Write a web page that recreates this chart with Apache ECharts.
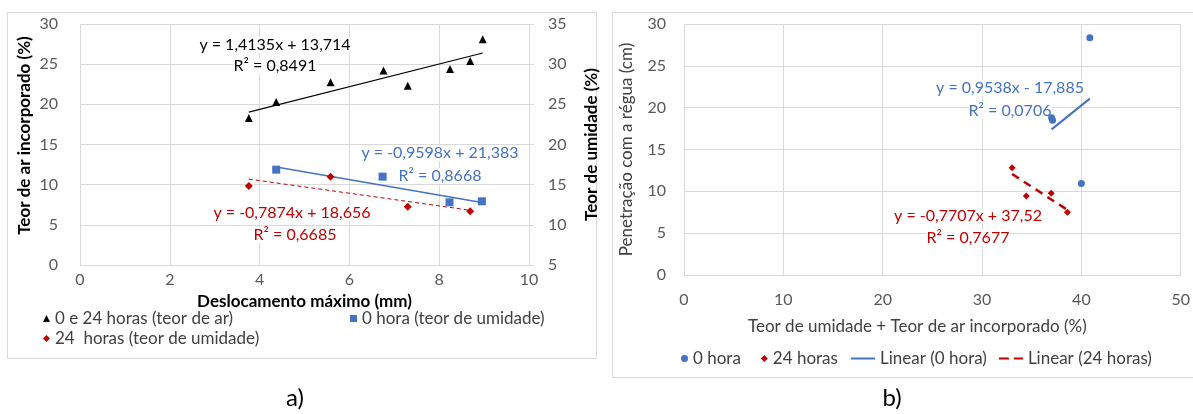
<!DOCTYPE html>
<html>
<head>
<meta charset="utf-8">
<script src="https://cdn.jsdelivr.net/npm/echarts@6/dist/echarts.min.js"></script>
<style>
html, body { margin: 0; padding: 0; background: #fff; }
#main { width: 1193px; height: 414px; }
</style>
</head>
<body>
<div id="main"></div>
<script>
// a) teor de ar / teor de umidade vs deslocamento maximo (mm)
var arX = [3.76, 4.37, 5.58, 6.76, 7.30, 8.24, 8.69, 8.97];
var arY = [18.3, 20.3, 22.75, 24.2, 22.3, 24.4, 25.4, 28.1];
var um0X = [4.37, 6.74, 8.23, 8.95];
var um0Y = [16.87, 16.0, 12.8, 12.93];
var um24X = [3.76, 5.58, 7.30, 8.69];
var um24Y = [14.84, 16.0, 12.26, 11.69];

// b) penetracao vs teor de umidade + teor de ar
var h0X = [40.85, 37.0, 37.1, 40.0];
var h0Y = [28.35, 18.8, 18.5, 10.95];
var h24X = [33.03, 34.46, 36.96, 38.6];
var h24Y = [12.82, 9.44, 9.76, 7.49];

// linear trend coefficients [slope, intercept] and R² as printed on the chart
var trendAr = [1.4135, 13.714], r2Ar = '0,8491';
var trendUm0 = [-0.9598, 21.383], r2Um0 = '0,8668';
var trendUm24 = [-0.7874, 18.656], r2Um24 = '0,6685';
var trendH0 = [0.9538, -17.885], r2H0 = '0,0706';
var trendH24 = [-0.7707, 37.52], r2H24 = '0,7677';

// tick values
var ticksXa = [0, 2, 4, 6, 8, 10];
var ticksYa = [0, 5, 10, 15, 20, 25, 30];
var ticksYa2 = [5, 10, 15, 20, 25, 30, 35];
var ticksXb = [0, 10, 20, 30, 40, 50];
var ticksYb = [0, 5, 10, 15, 20, 25, 30];

var FONT = 'Lato, "Open Sans", sans-serif';
var BLUE = '#4472C4';
var RED = '#C00000';
var GRID = '#d9d9d9';
var TXT = '#404040';

function pts(xs, ys) {
  return xs.map(function (x, i) { return [x, ys[i]]; });
}
function trend(xs, c) {
  var lo = Math.min.apply(null, xs), hi = Math.max.apply(null, xs);
  return [[lo, c[0] * lo + c[1]], [hi, c[0] * hi + c[1]]];
}
function fmt(v) { return String(v).replace('.', ','); }
function eqText(c) {
  var sign = c[1] < 0 ? ' - ' : ' + ';
  return 'y = ' + fmt(c[0]) + 'x' + sign + fmt(Math.abs(c[1]));
}

var chartDom = document.getElementById('main');
var myChart = echarts.init(chartDom);

var axisLbl = { color: '#595959', fontSize: 16, fontFamily: FONT };
var split = { show: true, lineStyle: { color: GRID, width: 1 } };

function valAxis(ticks, extra) {
  var o = {
    type: 'value',
    min: ticks[0],
    max: ticks[ticks.length - 1],
    interval: ticks[1] - ticks[0],
    splitLine: split,
    axisTick: { show: false },
    axisLine: { show: false },
    axisLabel: Object.assign({}, axisLbl)
  };
  return Object.assign(o, extra);
}

function eq(x, y, text, color) {
  return {
    type: 'text', x: x, y: y, z: 1,
    style: {
      text: text, fill: color, font: '16px ' + FONT,
      align: 'center', verticalAlign: 'middle', backgroundColor: '#fff'
    }
  };
}

var legText = { color: TXT, fontSize: 17, fontFamily: FONT };

var option = {
  animation: false,
  textStyle: { fontFamily: FONT },
  grid: [
    { left: 80, top: 24, width: 449, height: 241 },
    { left: 684, top: 24, width: 501, height: 251 }
  ],
  xAxis: [
    valAxis(ticksXa, {
      gridIndex: 0,
      axisLine: { show: true, lineStyle: { color: GRID } },
      axisLabel: Object.assign({}, axisLbl, { margin: 7 }),
      name: 'Deslocamento máximo (mm)',
      nameLocation: 'middle',
      nameGap: 18,
      nameTextStyle: { color: '#000', fontWeight: 'bold', fontSize: 17, fontFamily: FONT }
    }),
    valAxis(ticksXb, {
      gridIndex: 1,
      axisLine: { show: true, lineStyle: { color: GRID } },
      axisLabel: Object.assign({}, axisLbl, { margin: 17 }),
      name: 'Teor de umidade + Teor de ar incorporado (%)',
      nameLocation: 'middle',
      nameGap: 43,
      nameTextStyle: { color: TXT, fontSize: 17, fontFamily: FONT, padding: [0, 30, 0, 0] }
    })
  ],
  yAxis: [
    valAxis(ticksYa, {
      gridIndex: 0,
      position: 'left',
      axisLabel: Object.assign({}, axisLbl, { margin: 22 }),
      name: 'Teor de ar incorporado (%)',
      nameLocation: 'middle',
      nameRotate: 90,
      nameGap: 47,
      nameTextStyle: { color: '#000', fontWeight: 'bold', fontSize: 17, fontFamily: FONT, padding: [0, 0, 0, 18] }
    }),
    valAxis(ticksYa2, {
      gridIndex: 0,
      position: 'right',
      splitLine: { show: false },
      axisLine: { show: true, lineStyle: { color: GRID } },
      axisTick: { show: true, inside: false, length: 5, lineStyle: { color: GRID } },
      axisLabel: Object.assign({}, axisLbl, { margin: 19 }),
      name: 'Teor de umidade (%)',
      nameLocation: 'middle',
      nameRotate: 90,
      nameGap: 54,
      nameTextStyle: { color: '#000', fontWeight: 'bold', fontSize: 17, fontFamily: FONT }
    }),
    valAxis(ticksYb, {
      gridIndex: 1,
      axisLabel: Object.assign({}, axisLbl, { margin: 18 }),
      name: 'Penetração com a régua (cm)',
      nameLocation: 'middle',
      nameRotate: 90,
      nameGap: 49,
      nameTextStyle: { color: TXT, fontSize: 17, fontFamily: FONT }
    })
  ],
  legend: [
    {
      data: ['0 e 24 horas (teor de ar)'],
      left: 38, top: 305, itemWidth: 7, itemHeight: 7,
      textStyle: legText
    },
    {
      data: ['0 hora (teor de umidade)'],
      left: 345, top: 305, itemWidth: 7, itemHeight: 7,
      textStyle: legText
    },
    {
      data: ['24  horas (teor de umidade)'],
      left: 38, top: 325, itemWidth: 7, itemHeight: 7,
      textStyle: legText
    },
    {
      data: ['0 hora', '24 horas'],
      left: 676, top: 345, itemWidth: 7, itemHeight: 7, itemGap: 20,
      textStyle: legText
    },
    {
      data: [
        { name: 'Linear (0 hora)', icon: 'path://M0,0H24V2H0Z' },
        { name: 'Linear (24 horas)', icon: 'path://M0,0H10V2H0Z M15,0H24V2H15Z' }
      ],
      left: 846, top: 345, itemWidth: 24, itemHeight: 2, itemGap: 12, itemTextGap: 2,
      textStyle: legText
    }
  ],
  graphic: [
    { type: 'rect', z: 0, shape: { x: 7.5, y: 12.5, width: 589, height: 346 }, style: { fill: 'none', stroke: GRID, lineWidth: 1 }, silent: true },
    { type: 'rect', z: 0, shape: { x: 612.5, y: 12.5, width: 590, height: 365 }, style: { fill: 'none', stroke: GRID, lineWidth: 1 }, silent: true },
    eq(275, 45, eqText(trendAr), '#000'),
    eq(275, 66, 'R² = ' + r2Ar, '#000'),
    eq(440, 153, eqText(trendUm0), BLUE),
    eq(440, 176, 'R² = ' + r2Um0, BLUE),
    eq(292, 213, eqText(trendUm24), RED),
    eq(295, 235, 'R² = ' + r2Um24, RED),
    eq(1010, 88, eqText(trendH0), BLUE),
    eq(1010, 111, 'R² = ' + r2H0, BLUE),
    eq(968, 216, eqText(trendH24), RED),
    eq(968, 238, 'R² = ' + r2H24, RED),
    { type: 'text', x: 295, y: 398, style: { text: 'a)', fill: '#000', font: '24px ' + FONT, align: 'center', verticalAlign: 'middle' } },
    { type: 'text', x: 892, y: 398, style: { text: 'b)', fill: '#000', font: '24px ' + FONT, align: 'center', verticalAlign: 'middle' } }
  ],
  series: [
    {
      name: 'trend ar', type: 'line', xAxisIndex: 0, yAxisIndex: 0,
      data: trend(arX, trendAr), symbol: 'none',
      itemStyle: { color: '#000' },
      lineStyle: { color: '#000', width: 1.2 }, z: 2
    },
    {
      name: 'trend um0', type: 'line', xAxisIndex: 0, yAxisIndex: 1,
      data: trend(um0X, trendUm0), symbol: 'none',
      itemStyle: { color: BLUE },
      lineStyle: { color: BLUE, width: 1.5 }, z: 2
    },
    {
      name: 'trend um24', type: 'line', xAxisIndex: 0, yAxisIndex: 1,
      data: trend(um24X, trendUm24), symbol: 'none',
      itemStyle: { color: RED },
      lineStyle: { color: RED, width: 1, type: [4, 3] }, z: 2
    },
    {
      name: '0 e 24 horas (teor de ar)', type: 'scatter', xAxisIndex: 0, yAxisIndex: 0,
      data: pts(arX, arY), symbol: 'triangle', symbolSize: 8, z: 3,
      itemStyle: { color: '#000', opacity: 1 }
    },
    {
      name: '0 hora (teor de umidade)', type: 'scatter', xAxisIndex: 0, yAxisIndex: 1,
      data: pts(um0X, um0Y), symbol: 'rect', symbolSize: 8, z: 3,
      itemStyle: { color: BLUE, opacity: 1 }
    },
    {
      name: '24  horas (teor de umidade)', type: 'scatter', xAxisIndex: 0, yAxisIndex: 1,
      data: pts(um24X, um24Y), symbol: 'diamond', symbolSize: 8, z: 3,
      itemStyle: { color: RED, opacity: 1 }
    },
    {
      name: '0 hora', type: 'scatter', xAxisIndex: 1, yAxisIndex: 2,
      data: pts(h0X, h0Y), symbol: 'circle', symbolSize: 7, z: 3,
      itemStyle: { color: BLUE, opacity: 1 }
    },
    {
      name: '24 horas', type: 'scatter', xAxisIndex: 1, yAxisIndex: 2,
      data: pts(h24X, h24Y), symbol: 'diamond', symbolSize: 7, z: 3,
      itemStyle: { color: RED, opacity: 1 }
    },
    {
      name: 'Linear (0 hora)', type: 'line', xAxisIndex: 1, yAxisIndex: 2,
      data: trend(h0X, trendH0), symbol: 'none',
      itemStyle: { color: BLUE },
      lineStyle: { color: BLUE, width: 2 }, z: 2
    },
    {
      name: 'Linear (24 horas)', type: 'line', xAxisIndex: 1, yAxisIndex: 2,
      data: trend(h24X, trendH24), symbol: 'none',
      itemStyle: { color: RED },
      lineStyle: { color: RED, width: 2.5, type: [8, 6] }, z: 2
    }
  ]
};

option && myChart.setOption(option);
</script>
</body>
</html>
